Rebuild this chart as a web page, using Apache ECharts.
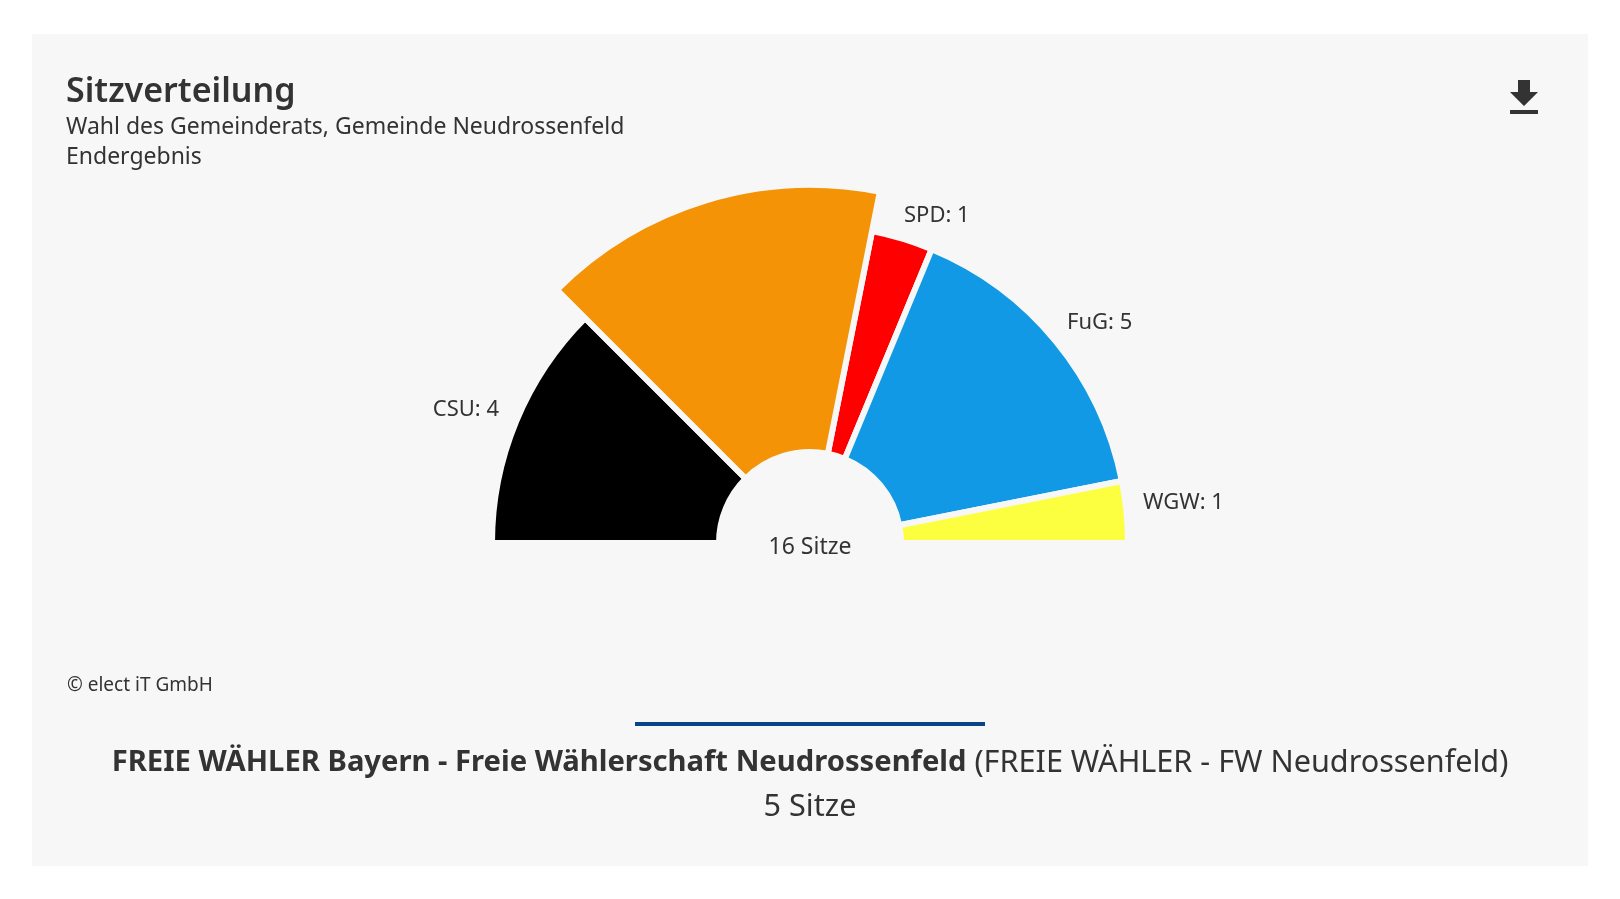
<!DOCTYPE html>
<html><head><meta charset="utf-8">
<style>
html,body{margin:0;padding:0;background:#fff;overflow:hidden}
#panel{position:absolute;left:32px;top:34px;width:1556px;height:832px;background:#f7f7f7}
#c{position:absolute;left:0;top:0;width:1620px;height:899px}
</style>
<script src="https://cdn.jsdelivr.net/npm/echarts@6/dist/echarts.min.js"></script>
</head><body><div id="panel"></div><div id="c"></div>
<script>
const parties = ['CSU','FREIE WÄHLER','SPD','FuG','WGW'];
const seats = [4,5,1,5,1];
const colors = ['#000000','#f39305','#ff0000','#1199e6','#fcff3f'];
const highlighted = 'FREIE WÄHLER';
const totalLabel = '16 Sitze';
const titleText = 'Sitzverteilung';
const subtitleLines = ['Wahl des Gemeinderats, Gemeinde Neudrossenfeld','Endergebnis'];
const copyrightText = '© elect iT GmbH';
const footerBold = 'FREIE WÄHLER Bayern - Freie Wählerschaft Neudrossenfeld';
const footerPlain = ' (FREIE WÄHLER - FW Neudrossenfeld)';
const footerSeats = '5 Sitze';

const FONT = '"Noto Sans", sans-serif';
const INK = '#333333', BG = '#f7f7f7';
const labelAnchors = {CSU:[499,410,'right'],SPD:[904,216,'left'],FuG:[1067,323,'left'],WGW:[1143,503,'left']};

const chart = echarts.init(document.getElementById('c'));
const center = [810,543];
const baseData = parties.map((n,i)=>({name:n,value:seats[i],
  itemStyle: n===highlighted ? {color:'transparent',borderWidth:0} : {color:colors[i],borderColor:BG,borderWidth:6},
  label:{show:n!==highlighted}}));
const hiData = parties.map((n,i)=>({name:n,value:seats[i],
  itemStyle: n===highlighted ? {color:colors[i],borderColor:BG,borderWidth:6} : {color:'transparent',borderWidth:0}}));
chart.setOption({
  animation:false,
  backgroundColor:'transparent',
  series:[
   {type:'pie',center,radius:[91,318],startAngle:180,endAngle:0,clockwise:true,silent:true,data:baseData,
    label:{formatter:'{b}: {c}',fontFamily:FONT,fontSize:22,color:INK,position:'outside'},
    labelLine:{show:false},
    labelLayout:p=>{const a=labelAnchors[parties[p.dataIndex]];return a?{x:a[0],y:a[1],align:a[2],verticalAlign:'middle'}:{};}},
   {type:'pie',center,radius:[91,358],startAngle:180,endAngle:0,clockwise:true,silent:true,data:hiData,
    label:{show:false},labelLine:{show:false}}
  ],
  graphic:[
   {type:'text',left:66,top:75,style:{text:titleText,font:'600 34px '+FONT,fill:INK}},
   {type:'text',left:66,top:116,style:{text:subtitleLines[0],font:'400 23px '+FONT,fill:INK}},
   {type:'text',left:66,top:146,style:{text:subtitleLines[1],font:'400 23px '+FONT,fill:INK}},
   {type:'text',left:67,top:676,style:{text:copyrightText,font:'400 19px '+FONT,fill:INK}},
   {type:'text',x:810,y:547,style:{text:totalLabel,font:'400 23px '+FONT,fill:INK,align:'center',verticalAlign:'middle'}},
   {type:'rect',shape:{x:635,y:722,width:350,height:4},style:{fill:'#0a4488'}},
   {type:'text',x:810,y:763,style:{align:'center',verticalAlign:'middle',fill:INK,
      text:'{b|'+footerBold+'}{n|'+footerPlain+'}',
      rich:{b:{font:'700 29.2px '+FONT,fill:INK},n:{font:'400 30.6px '+FONT,fill:INK}}}},
   {type:'text',x:810,y:807,style:{text:footerSeats,font:'400 30.6px '+FONT,fill:INK,align:'center',verticalAlign:'middle'}},
   {type:'polygon',shape:{points:[[1518,80],[1530,80],[1530,92],[1538,92],[1524,106],[1510,92],[1518,92]]},style:{fill:INK}},
   {type:'rect',shape:{x:1510,y:110,width:28,height:4},style:{fill:INK}}
  ]
});
</script></body></html>
